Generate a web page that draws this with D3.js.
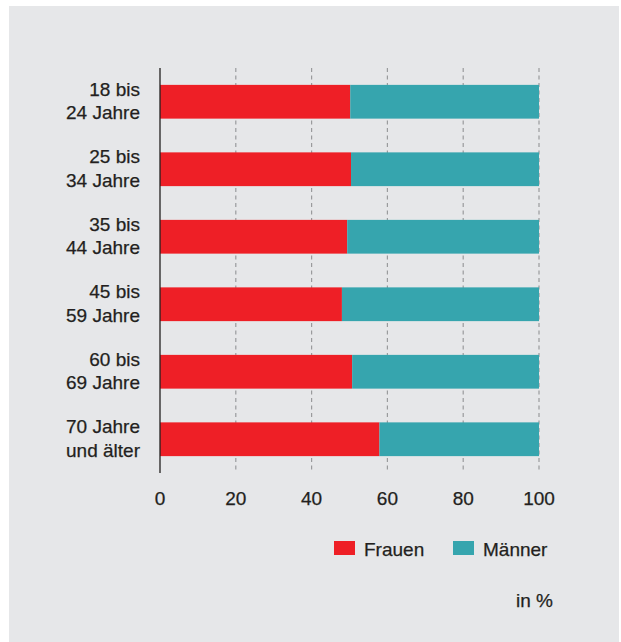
<!DOCTYPE html>
<html>
<head>
<meta charset="utf-8">
<script src="https://cdn.jsdelivr.net/npm/d3@7"></script>
<style>
  body { margin: 0; background: #fff; }
  text { font-family: "Liberation Sans", Arial, Helvetica, sans-serif; fill: #231f20; stroke: #231f20; stroke-width: 0.25px; }
</style>
</head>
<body>
<div id="chart"></div>
<script>
// age groups, each label split over two lines
const categories = [
  ["18 bis", "24 Jahre"],
  ["25 bis", "34 Jahre"],
  ["35 bis", "44 Jahre"],
  ["45 bis", "59 Jahre"],
  ["60 bis", "69 Jahre"],
  ["70 Jahre", "und älter"]
];
const frauen = [50.2, 50.4, 49.4, 48.0, 50.7, 57.9];
const maenner = [49.8, 49.6, 50.6, 52.0, 49.3, 42.1];
const xTicks = [0, 20, 40, 60, 80, 100];
const seriesNames = ["Frauen", "Männer"];
const unitLabel = "in %";

const width = 621, height = 642;
const fontSize = "19px";
const colors = d3.scaleOrdinal().domain(seriesNames).range(["#ee1f26", "#36a5ae"]);

const svg = d3.select("#chart")
  .append("svg")
  .attr("width", width)
  .attr("height", height);

// grey panel
svg.append("rect")
  .attr("x", 9).attr("y", 6)
  .attr("width", 610).attr("height", 636)
  .attr("fill", "#e6e7e9");

const x = d3.scaleLinear().domain([0, 100]).range([160, 539]);
const y = d3.scaleBand()
  .domain(d3.range(categories.length))
  .range([68, 473])
  .paddingInner(0.5)
  .paddingOuter(0.25);

// dashed gridlines
svg.append("g")
  .selectAll("line")
  .data(xTicks.filter(d => d > 0))
  .enter()
  .append("line")
  .attr("x1", d => x(d)).attr("x2", d => x(d))
  .attr("y1", 68).attr("y2", 471)
  .attr("stroke", "#9a9b9d")
  .attr("stroke-width", 1.2)
  .attr("stroke-dasharray", "4,3.5");

// stacked bars
const rows = categories.map((c, i) => ({ i: i, f: frauen[i], m: maenner[i] }));

svg.append("g")
  .selectAll("rect")
  .data(rows)
  .enter()
  .append("rect")
  .attr("x", x(0))
  .attr("y", d => y(d.i))
  .attr("width", d => x(d.f) - x(0))
  .attr("height", y.bandwidth())
  .attr("fill", colors("Frauen"));

svg.append("g")
  .selectAll("rect")
  .data(rows)
  .enter()
  .append("rect")
  .attr("x", d => x(d.f))
  .attr("y", d => y(d.i))
  .attr("width", d => x(d.f + d.m) - x(d.f))
  .attr("height", y.bandwidth())
  .attr("fill", colors("Männer"));

// vertical axis line
svg.append("line")
  .attr("x1", x(0)).attr("x2", x(0))
  .attr("y1", 68).attr("y2", 473)
  .attr("stroke", "#231f20")
  .attr("stroke-width", 1.3);

// category labels
const labels = svg.append("g")
  .selectAll("text")
  .data(categories)
  .enter()
  .append("text")
  .attr("text-anchor", "end")
  .style("font-size", fontSize);

labels.append("tspan")
  .attr("x", 140)
  .attr("y", (d, i) => y(i) + y.bandwidth() / 2 - 6)
  .text(d => d[0]);
labels.append("tspan")
  .attr("x", 140)
  .attr("y", (d, i) => y(i) + y.bandwidth() / 2 + 17.5)
  .text(d => d[1]);

// x tick labels
svg.append("g")
  .selectAll("text")
  .data(xTicks)
  .enter()
  .append("text")
  .attr("x", d => x(d))
  .attr("y", 505)
  .attr("text-anchor", "middle")
  .style("font-size", fontSize)
  .text(d => d);

// legend
const legendX = [334, 453];
const legend = svg.append("g")
  .selectAll("g")
  .data(seriesNames)
  .enter()
  .append("g")
  .attr("transform", (d, i) => "translate(" + legendX[i] + ",541)");

legend.append("rect")
  .attr("width", 21).attr("height", 14)
  .attr("fill", d => colors(d))
  .attr("stroke", "none");
legend.append("text")
  .attr("x", 30).attr("y", 14.5)
  .style("font-size", fontSize)
  .text(d => d);

svg.append("text")
  .attr("x", 553).attr("y", 607)
  .attr("text-anchor", "end")
  .style("font-size", fontSize)
  .text(unitLabel);
</script>
</body>
</html>
